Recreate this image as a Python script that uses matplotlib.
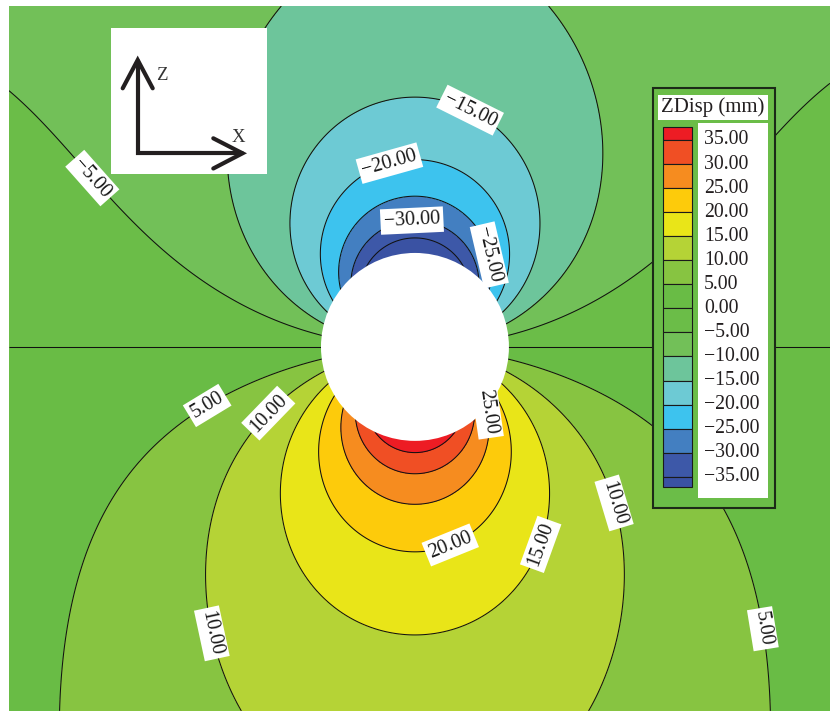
import numpy as np
import matplotlib
matplotlib.use("Agg")
import matplotlib.pyplot as plt
from matplotlib.patches import Circle, Rectangle

plt.rcParams['font.family'] = ['Liberation Serif', 'DejaVu Serif']
plt.rcParams['contour.negative_linestyle'] = 'solid'

# ---------------------------------------------------------------- data
tunnel_radius = 3.0                      # m
levels = [-35, -30, -25, -20, -15, -10, -5, 0, 5, 10, 15, 20, 25, 30, 35]
band_colors = ['#3a52a3', '#3d58a8', '#437fc1', '#3dc3ee', '#6dcad4', '#6dc59b',
               '#72c058', '#6bbd48', '#69bc45', '#87c441', '#b5d336', '#e9e518',
               '#fdcb0b', '#f68c1f', '#f04f24', '#ed1c24']

# contour crossings on the vertical axis, distance from the tunnel centre (m)
crown_levels = [-35, -30, -25, -20, -15]
crown_dist = [3.48, 3.99, 4.85, 5.97, 7.79]
invert_levels = [35, 30, 25, 20, 15]
invert_dist = [3.35, 4.15, 4.98, 6.42, 9.29]

# lateral spreading / attenuation lengths of the two lobes (m)
crown_spread = 21.5
invert_spread = 15.0

# labelled contours: level and a point near where the label sits (m)
label_levels = [-5, -15, -20, -30, -25, 25, 5, 10, 20, 15, 10, 10, 5]
label_points = [(-10.37, 5.33), (1.92, 7.88), (-0.86, 6.03), (-0.10, 4.12),
                (2.39, 2.94), (2.39, -2.07), (-6.70, -1.76), (-4.79, -2.01),
                (1.02, -6.06), (3.89, -6.26), (6.16, -5.04), (-6.70, -9.19),
                (11.27, -8.97)]

x_range = (-12.96, 13.25)
z_range = (-11.62, 10.88)

# ---------------------------------------------------------------- field
def power_fit(dist, vals):
    slope, icpt = np.polyfit(np.log(dist), np.log(np.abs(vals)), 1)
    return np.exp(icpt), -slope

A_c, p_c = power_fit(crown_dist, crown_levels)
A_i, p_i = power_fit(invert_dist, invert_levels)

x = np.linspace(*x_range, 800)
z = np.linspace(*z_range, 700)
X, Z = np.meshgrid(x, z)
r = np.hypot(X, Z)
r = np.where(r < 1e-6, 1e-6, r)
s = Z / r
upper = -A_c * s / r**p_c * (1 + (r / crown_spread)**4)
lower = -A_i * s / r**p_i / (1 + (X / invert_spread)**4)
U = np.where(Z >= 0, upper, lower)
U = np.ma.masked_where(r < 0.9 * tunnel_radius, U)

# ---------------------------------------------------------------- figure
W, H = 830, 711
fig = plt.figure(figsize=(W / 100, H / 100), dpi=100)
ax = fig.add_axes([9 / W, 0, 821 / W, 705 / H])
bounds = [-1e4] + levels + [1e4]
ax.contourf(X, Z, U, levels=bounds, colors=band_colors)
cl = ax.contour(X, Z, U, levels=levels, colors='#111111', linewidths=0.75,
                linestyles='solid')
ax.add_patch(Circle((0, 0), tunnel_radius, fc='white', ec='none', zorder=3))
ax.set_xlim(*x_range)
ax.set_ylim(*z_range)
ax.set_aspect('equal')
ax.axis('off')


def fmt(v):
    return f'{v:.2f}'.replace('-', '\u2212')


# one hidden contour per label so each label lands on its own level
for lv, pt in zip(label_levels, label_points):
    cs1 = ax.contour(X, Z, U, levels=[lv], colors='none', linewidths=0)
    ax.clabel(cs1, manual=[pt], inline=False, fmt=fmt, fontsize=14.5,
              colors='#1a1a1a')
    for t in cs1.labelTexts:
        t.set_bbox(dict(boxstyle='square,pad=0.16', fc='white', ec='none'))
        t.set_zorder(6)

# ---------------------------------------------------------------- overlay (pixel coords)
ov = fig.add_axes([0, 0, 1, 1])
ov.set_xlim(0, W)
ov.set_ylim(H, 0)
ov.axis('off')

# coordinate triad
ov.add_patch(Rectangle((111, 28), 156, 146, fc='white', ec='none'))
ink = '#231f20'
ov.plot([137.7, 137.7, 241.7], [61, 153.3, 153.3], color=ink, lw=3.0,
        solid_capstyle='round', solid_joinstyle='miter')
ov.plot([122.7, 137.7, 152.7], [88.3, 60, 88.3], color=ink, lw=3.0,
        solid_capstyle='round', solid_joinstyle='miter')
ov.plot([213.3, 242.5, 213.3], [138.3, 153.3, 168.5], color=ink, lw=3.0,
        solid_capstyle='round', solid_joinstyle='miter')
ov.text(156, 75, 'Z', fontsize=13.5, color='#333333', ha='left', va='center')
ov.text(232, 137, 'X', fontsize=13.5, color='#333333', ha='left', va='center')

# legend panel
ov.add_patch(Rectangle((653, 88), 122, 420, fc='#6bbd48', ec='#1c2a18', lw=1.5))
ov.add_patch(Rectangle((658, 95), 110, 25, fc='white', ec='none'))
ov.text(713, 107.5, 'ZDisp (mm)', fontsize=15, color='#231f20',
        ha='center', va='center')
ov.add_patch(Rectangle((698, 123), 70, 375, fc='white', ec='none'))

step = 24.05
edges = [127.0] + [140.0 + i * step for i in range(15)] + [140.0 + 14 * step + 10.6]
colors_top_down = band_colors[::-1]
for i, c in enumerate(colors_top_down):
    ov.add_patch(Rectangle((663, edges[i]), 29, edges[i + 1] - edges[i],
                           fc=c, ec='#1a1a1a', lw=0.8))
for i, lv in enumerate(levels[::-1]):
    ov.text(704, edges[i + 1], fmt(lv), fontsize=14.2, color='#231f20',
            ha='left', va='center')

fig.savefig('out.png', dpi=100)
